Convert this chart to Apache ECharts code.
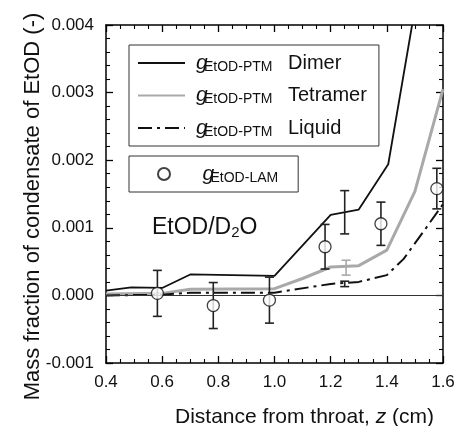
<!DOCTYPE html>
<html>
<head>
<meta charset="utf-8">
<script src="https://cdn.jsdelivr.net/npm/echarts@6/dist/echarts.min.js"></script>
<style>
  html, body { margin: 0; padding: 0; background: #fff; }
  #chart { width: 460px; height: 426px; }
</style>
</head>
<body>
<div id="chart"></div>
<script>
// PTM curves (z in cm, mass fraction)
const zDimer = [0.4, 0.49, 0.6, 0.7, 1.0, 1.2, 1.3, 1.405, 1.49];
const gDimer = [0.00007, 0.00012, 0.00011, 0.00031, 0.00029, 0.00119, 0.00127, 0.00194, 0.004];
const zTetra = [0.4, 0.6, 0.7, 1.0, 1.1, 1.2, 1.3, 1.4, 1.5, 1.6];
const gTetra = [0.00002, 0.00003, 0.00009, 0.0001, 0.00025, 0.00042, 0.00044, 0.00067, 0.00154, 0.00305];
const zLiquid = [0.4, 0.6, 0.7, 1.0, 1.2, 1.3, 1.4, 1.46, 1.54, 1.6];
const gLiquid = [0.0, 0.00001, 0.00004, 0.00004, 0.00017, 0.0002, 0.0003, 0.00054, 0.001, 0.00135];
// LAM points with error
const zLam = [0.583, 0.782, 0.982, 1.18, 1.379, 1.578];
const gLam = [0.00003, -0.00015, -0.00007, 0.00072, 0.00106, 0.00158];
const eLam = [0.00034, 0.00034, 0.00034, 0.00033, 0.00032, 0.0003];
// extra error bars on the curves: [z, low, high]
const dimerBar = [1.25, 0.00091, 0.00155];
const liquidBar = [1.25, 0.00013, 0.00021];
const tetraBar = [1.255, 0.0003, 0.00052];

const FONT = "'Liberation Sans', Arial, Helvetica, sans-serif";
const GRAY = "#a9a9a9";

const zip = (a, b) => a.map((v, i) => [v, b[i]]);

function makeBar(color) {
  return function (params, api) {
    const lo = api.coord([api.value(0), api.value(1)]);
    const hi = api.coord([api.value(0), api.value(2)]);
    const w = 4.5;
    const st = { stroke: color, lineWidth: 1.6 };
    return {
      type: "group",
      children: [
        { type: "line", shape: { x1: lo[0], y1: lo[1], x2: hi[0], y2: hi[1] }, style: st },
        { type: "line", shape: { x1: lo[0] - w, y1: lo[1], x2: lo[0] + w, y2: lo[1] }, style: st },
        { type: "line", shape: { x1: hi[0] - w, y1: hi[1], x2: hi[0] + w, y2: hi[1] }, style: st }
      ]
    };
  };
}

// ticks inward on all four sides
function axis(extra, minorSplit) {
  return Object.assign({
    axisLine: { show: true, onZero: false, lineStyle: { color: "#000", width: 1.5 } },
    axisTick: { show: true, inside: true, length: 7, lineStyle: { color: "#000", width: 1.3 } },
    minorTick: { show: true, splitNumber: minorSplit, length: 4, lineStyle: { color: "#000", width: 1.1 } },
    splitLine: { show: false },
    minorSplitLine: { show: false },
    nameMoveOverlap: false
  }, extra);
}

const subRich = {
  g: { fontFamily: FONT, fontSize: 21, fontStyle: "italic", color: "#111", width: 8, padding: [0, 0, 0, 6] },
  sub: { fontFamily: FONT, fontSize: 14, color: "#111", verticalAlign: "bottom", padding: [9, 0, 0, 0] },
  n: { fontFamily: FONT, fontSize: 20, color: "#111" }
};

const chart = echarts.init(document.getElementById("chart"));
chart.setOption({
  animation: false,
  grid: { left: 106, right: 17, top: 25, bottom: 63, outerBoundsMode: "none" },
  xAxis: [
    axis({
      type: "value", min: 0.4, max: 1.6, interval: 0.2,
      axisLabel: { margin: 11, fontFamily: FONT, fontSize: 17, color: "#111", formatter: v => v.toFixed(1) },
      name: "Distance from throat, {i|z} (cm)",
      nameLocation: "middle",
      nameGap: 44,
      nameTextStyle: {
        fontFamily: FONT, fontSize: 21, color: "#111", padding: [0, 0, 0, 60],
        rich: { i: { fontFamily: FONT, fontSize: 21, fontStyle: "italic", color: "#111" } }
      }
    }, 4),
    axis({
      type: "value", position: "top", min: 0.4, max: 1.6, interval: 0.2,
      axisLabel: { show: false }
    }, 4)
  ],
  yAxis: [
    axis({
      type: "value", min: -0.001, max: 0.004, interval: 0.001,
      axisLabel: { margin: 12, fontFamily: FONT, fontSize: 17, color: "#111", formatter: v => v.toFixed(3) },
      name: "Mass fraction of condensate of EtOD (-)",
      nameLocation: "middle",
      nameGap: 62,
      nameTextStyle: { fontFamily: FONT, fontSize: 22, color: "#111", padding: [0, 25, 0, 0] }
    }, 5),
    axis({
      type: "value", position: "right", min: -0.001, max: 0.004, interval: 0.001,
      axisLabel: { show: false }
    }, 5)
  ],
  legend: [
    {
      data: ["Dimer", "Tetramer", "Liquid"],
      orient: "vertical",
      left: 129, top: 45,
      selectedMode: false,
      borderColor: "#333", borderWidth: 1, borderRadius: 0,
      padding: [7, 12, 7, 8],
      itemGap: 10.5,
      itemWidth: 47, itemHeight: 14,
      itemStyle: { opacity: 0 },
      formatter: name => "{g|g}{sub|EtOD-PTM}{n|" + name + "}",
      textStyle: { lineHeight: 22, rich: Object.assign({}, subRich, { sub: Object.assign({}, subRich.sub, { width: 84 }) }) }
    },
    {
      data: ["LAM"],
      orient: "vertical",
      left: 129, top: 156,
      selectedMode: false,
      borderColor: "#333", borderWidth: 1, borderRadius: 0,
      padding: [7, 20, 7, 28],
      itemWidth: 47, itemHeight: 12,
      formatter: () => "{g|g}{sub|EtOD-LAM}",
      textStyle: { lineHeight: 22, rich: Object.assign({}, subRich, { g: Object.assign({}, subRich.g, { padding: [0, 0, 0, 10] }) }) }
    }
  ],
  graphic: [
    {
      type: "text", x: 152, y: 228,
      style: {
        text: "{a|EtOD/D}{s|2}{a|O}",
        verticalAlign: "middle",
        rich: {
          a: { fontFamily: FONT, fontSize: 23, fill: "#111" },
          s: { fontFamily: FONT, fontSize: 15, fill: "#111", verticalAlign: "bottom", padding: [10, 0, 0, 0] }
        }
      }
    }
  ],
  series: [
    {
      name: "Dimer", type: "line", data: zip(zDimer, gDimer), symbol: "none",
      lineStyle: { color: "#111", width: 1.8 }, itemStyle: { color: "#111" }, z: 3,
      markLine: {
        silent: true, symbol: "none", label: { show: false },
        lineStyle: { color: "#333", width: 1, type: "solid" },
        data: [{ yAxis: 0 }]
      }
    },
    {
      name: "Tetramer", type: "line", data: zip(zTetra, gTetra), symbol: "none",
      lineStyle: { color: GRAY, width: 3 }, itemStyle: { color: GRAY }, z: 2
    },
    {
      name: "Liquid", type: "line", data: zip(zLiquid, gLiquid), symbol: "none",
      lineStyle: { color: "#111", width: 2, type: [14, 5, 3, 5] }, itemStyle: { color: "#111" }, z: 3
    },
    {
      type: "custom", renderItem: makeBar("#222"), z: 4,
      data: zLam.map((z, i) => [z, gLam[i] - eLam[i], gLam[i] + eLam[i]]).concat([dimerBar, liquidBar])
    },
    {
      type: "custom", renderItem: makeBar(GRAY), z: 4,
      data: [tetraBar]
    },
    {
      name: "LAM", type: "scatter", data: zip(zLam, gLam), symbol: "circle", symbolSize: 12,
      itemStyle: { color: "#fff", borderColor: "#111", borderWidth: 1.3 }, z: 5
    }
  ]
});
</script>
</body>
</html>
